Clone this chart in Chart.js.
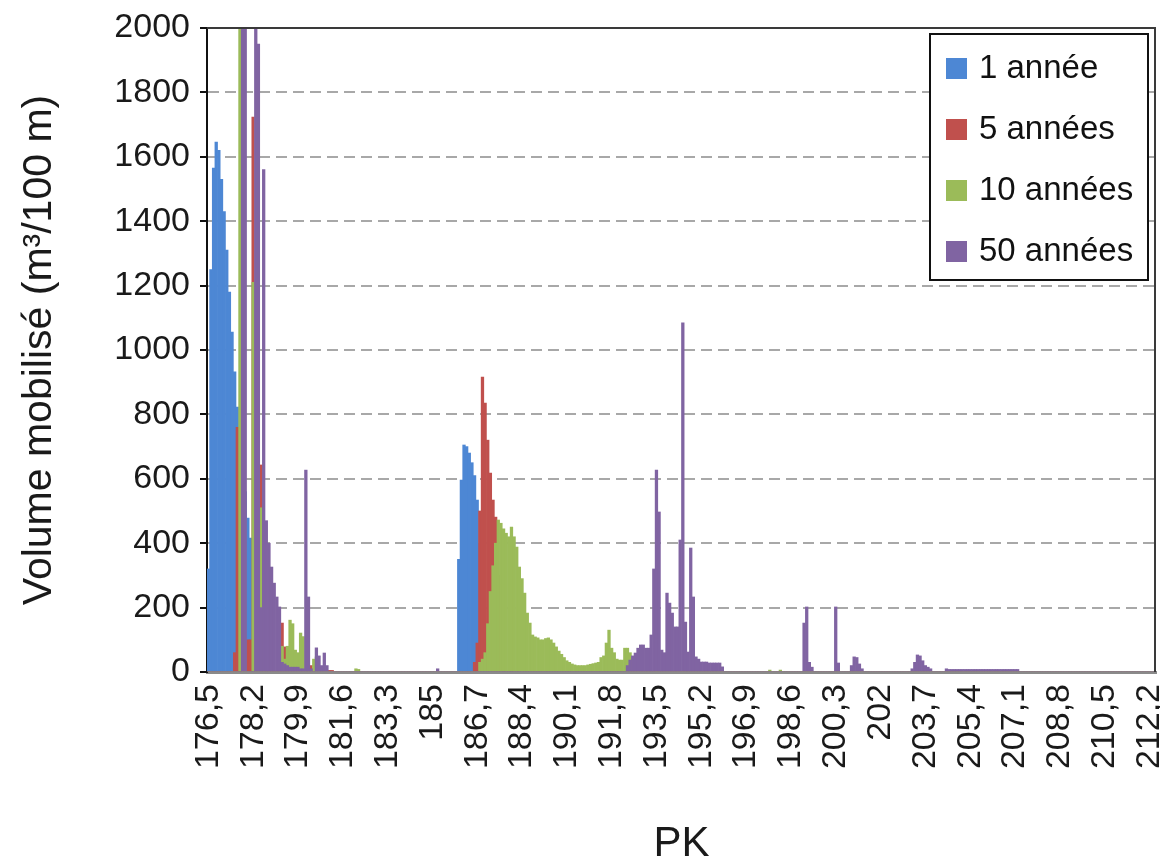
<!DOCTYPE html>
<html><head><meta charset="utf-8">
<script src="https://cdn.jsdelivr.net/npm/chart.js@4.4.1/dist/chart.umd.min.js"></script>
<style>html,body{margin:0;padding:0;background:#fff;}canvas{display:block;}</style>
</head><body>
<canvas id="c" width="1160" height="864"></canvas>
<script>
// Categories: PK (km), every 0.1 km
const pk = [
176.5,176.6,176.7,176.8,176.9,177,177.1,177.2,177.3,177.4,
177.5,177.6,177.7,177.8,177.9,178,178.1,178.2,178.3,178.4,
178.5,178.6,178.7,178.8,178.9,179,179.1,179.2,179.3,179.4,
179.5,179.6,179.7,179.8,179.9,180,180.1,180.2,180.3,180.4,
180.5,180.6,180.7,180.8,180.9,181,181.1,181.2,181.3,181.4,
181.5,181.6,181.7,181.8,181.9,182,182.1,182.2,182.3,182.4,
182.5,182.6,182.7,182.8,182.9,183,183.1,183.2,183.3,183.4,
183.5,183.6,183.7,183.8,183.9,184,184.1,184.2,184.3,184.4,
184.5,184.6,184.7,184.8,184.9,185,185.1,185.2,185.3,185.4,
185.5,185.6,185.7,185.8,185.9,186,186.1,186.2,186.3,186.4,
186.5,186.6,186.7,186.8,186.9,187,187.1,187.2,187.3,187.4,
187.5,187.6,187.7,187.8,187.9,188,188.1,188.2,188.3,188.4,
188.5,188.6,188.7,188.8,188.9,189,189.1,189.2,189.3,189.4,
189.5,189.6,189.7,189.8,189.9,190,190.1,190.2,190.3,190.4,
190.5,190.6,190.7,190.8,190.9,191,191.1,191.2,191.3,191.4,
191.5,191.6,191.7,191.8,191.9,192,192.1,192.2,192.3,192.4,
192.5,192.6,192.7,192.8,192.9,193,193.1,193.2,193.3,193.4,
193.5,193.6,193.7,193.8,193.9,194,194.1,194.2,194.3,194.4,
194.5,194.6,194.7,194.8,194.9,195,195.1,195.2,195.3,195.4,
195.5,195.6,195.7,195.8,195.9,196,196.1,196.2,196.3,196.4,
196.5,196.6,196.7,196.8,196.9,197,197.1,197.2,197.3,197.4,
197.5,197.6,197.7,197.8,197.9,198,198.1,198.2,198.3,198.4,
198.5,198.6,198.7,198.8,198.9,199,199.1,199.2,199.3,199.4,
199.5,199.6,199.7,199.8,199.9,200,200.1,200.2,200.3,200.4,
200.5,200.6,200.7,200.8,200.9,201,201.1,201.2,201.3,201.4,
201.5,201.6,201.7,201.8,201.9,202,202.1,202.2,202.3,202.4,
202.5,202.6,202.7,202.8,202.9,203,203.1,203.2,203.3,203.4,
203.5,203.6,203.7,203.8,203.9,204,204.1,204.2,204.3,204.4,
204.5,204.6,204.7,204.8,204.9,205,205.1,205.2,205.3,205.4,
205.5,205.6,205.7,205.8,205.9,206,206.1,206.2,206.3,206.4,
206.5,206.6,206.7,206.8,206.9,207,207.1,207.2,207.3,207.4,
207.5,207.6,207.7,207.8,207.9,208,208.1,208.2,208.3,208.4,
208.5,208.6,208.7,208.8,208.9,209,209.1,209.2,209.3,209.4,
209.5,209.6,209.7,209.8,209.9,210,210.1,210.2,210.3,210.4,
210.5,210.6,210.7,210.8,210.9,211,211.1,211.2,211.3,211.4,
211.5,211.6,211.7,211.8,211.9,212,212.1,212.2,212.3,212.4
];

// Tick labels shown on the x axis (every 1.7 km)
const tickLabels = ['176,5','178,2','179,9','181,6','183,3','185','186,7','188,4','190,1','191,8',
  '193,5','195,2','196,9','198,6','200,3','202','203,7','205,4','207,1','208,8','210,5','212,2'];
const tickEvery = 17;

const yTicks = [0,200,400,600,800,1000,1200,1400,1600,1800,2000];

const seriesNames = ['1 année','5 années','10 années','50 années'];
const seriesColors = ['#4D87D4','#C0504D','#9BBB59','#8064A2'];

// Volume mobilisé (m3/100 m) – 1 année
const vol1 = [
320,1250,1565,1646,1620,1530,1430,1310,1180,1056,
932,823,760,700,560,478,416,0,0,0,
0,0,0,0,0,0,0,0,0,0,
0,0,0,0,0,0,0,0,0,0,
0,0,0,0,0,0,0,0,0,0,
0,0,0,0,0,0,0,0,0,0,
0,0,0,0,0,0,0,0,0,0,
0,0,0,0,0,0,0,0,0,0,
0,0,0,0,0,0,0,0,0,0,
0,0,0,0,0,350,596,705,700,680,
650,610,534,400,0,0,0,0,0,0,
0,0,0,0,0,0,0,0,0,0,
0,0,0,0,0,0,0,0,0,0,
0,0,0,0,0,0,0,0,0,0,
0,0,0,0,0,0,0,0,0,0,
0,0,0,0,0,0,0,0,0,0,
0,0,0,0,0,0,0,0,0,0,
0,0,0,0,0,0,0,0,0,0,
0,0,0,0,0,0,0,0,0,0,
0,0,0,0,0,0,0,0,0,0,
0,0,0,0,0,0,0,0,0,0,
0,0,0,0,0,0,0,0,0,0,
0,0,0,0,0,0,0,0,0,0,
0,0,0,0,0,0,0,0,0,0,
0,0,0,0,0,0,0,0,0,0,
0,0,0,0,0,0,0,0,0,0,
0,0,0,0,0,0,0,0,0,0,
0,0,0,0,0,0,0,0,0,0,
0,0,0,0,0,0,0,0,0,0,
0,0,0,0,0,0,0,0,0,0,
0,0,0,0,0,0,0,0,0,0,
0,0,0,0,0,0,0,0,0,0,
0,0,0,0,0,0,0,0,0,0,
0,0,0,0,0,0,0,0,0,0,
0,0,0,0,0,0,0,0,0,0,
0,0,0,0,0,0,0,0,0,0
];

// 5 années
const vol5 = [
0,0,0,0,0,0,0,0,0,0,
60,760,0,0,0,100,100,1723,0,0,
643,0,0,0,0,0,0,0,152,78,
30,0,0,0,0,0,0,0,0,20,
0,0,0,10,0,0,5,5,0,0,
0,0,0,0,0,0,0,0,0,0,
0,0,0,0,0,0,0,0,0,0,
0,0,0,0,0,0,0,0,0,0,
0,0,0,0,0,0,0,0,0,0,
0,0,0,0,0,0,0,0,0,0,
0,30,90,500,916,835,720,618,534,481,
300,200,100,0,0,0,0,0,0,0,
0,0,0,0,0,0,0,0,0,0,
0,0,0,0,0,0,0,0,0,0,
0,0,0,0,0,0,0,0,0,0,
0,0,0,0,0,0,0,0,0,0,
0,0,0,0,0,0,0,0,0,0,
0,0,0,0,0,0,0,0,0,0,
0,0,0,0,0,0,0,0,0,0,
0,0,0,0,0,0,0,0,0,0,
0,0,0,0,0,0,0,0,0,0,
0,0,0,0,0,0,0,0,0,0,
0,0,0,0,0,0,0,0,0,0,
0,0,0,0,0,0,0,0,0,0,
0,0,0,0,0,0,0,0,0,0,
0,0,0,0,0,0,0,0,0,0,
0,0,0,0,0,0,0,0,0,0,
0,0,0,0,0,0,0,0,0,0,
0,0,0,0,0,0,0,0,0,0,
0,0,0,0,0,0,0,0,0,0,
0,0,0,0,0,0,0,0,0,0,
0,0,0,0,0,0,0,0,0,0,
0,0,0,0,0,0,0,0,0,0,
0,0,0,0,0,0,0,0,0,0,
0,0,0,0,0,0,0,0,0,0,
0,0,0,0,0,0,0,0,0,0
];

// 10 années
const vol10 = [
0,0,0,0,0,0,0,0,0,0,
0,0,2000,0,0,0,0,1210,0,0,
510,0,0,0,0,0,0,0,80,40,
80,161,150,68,60,121,110,0,0,0,
40,47,0,0,0,0,0,0,0,0,
0,0,0,0,0,0,10,8,0,0,
0,0,0,0,0,0,0,0,0,0,
0,0,0,0,0,0,0,0,0,0,
0,0,0,0,0,0,0,0,0,0,
0,0,0,0,0,0,0,0,0,0,
0,0,0,30,40,60,150,250,330,400,
472,462,445,431,420,450,420,388,326,290,
245,183,152,115,109,106,100,100,104,106,
100,90,78,65,55,45,35,30,25,22,
20,20,20,20,22,24,26,28,30,45,
50,90,130,74,60,40,37,37,74,74,
60,40,0,0,0,0,0,0,0,0,
0,0,0,0,0,0,0,0,0,0,
0,0,0,0,0,0,0,0,0,0,
0,0,0,0,0,0,0,0,0,0,
0,0,0,0,0,0,0,0,0,0,
0,0,0,6,0,0,0,6,0,0,
0,0,0,0,0,0,0,0,0,0,
0,0,0,0,0,0,0,0,0,0,
0,0,0,0,0,0,0,0,0,0,
0,0,0,0,0,0,0,0,0,0,
0,0,0,0,0,0,0,0,0,0,
0,0,0,0,0,0,0,0,0,0,
0,0,0,0,0,0,0,0,0,0,
0,0,0,0,0,0,0,0,0,0,
0,0,0,0,0,0,0,0,0,0,
0,0,0,0,0,0,0,0,0,0,
0,0,0,0,0,0,0,0,0,0,
0,0,0,0,0,0,0,0,0,0,
0,0,0,0,0,0,0,0,0,0,
0,0,0,0,0,0,0,0,0,0
];

// 50 années
const vol50 = [
0,0,0,0,0,0,0,0,0,0,
0,0,0,2000,2000,0,0,0,2000,1950,
200,1560,470,400,326,276,233,202,30,25,
20,15,15,15,15,10,10,627,233,10,
0,75,50,20,59,20,0,0,0,0,
0,0,0,0,0,0,0,0,0,0,
0,0,0,0,0,0,0,0,0,0,
0,0,0,0,0,0,0,0,0,0,
0,0,0,0,0,0,0,10,0,0,
0,0,0,0,0,0,0,0,0,0,
0,0,0,0,0,0,0,0,0,0,
0,0,0,0,0,0,0,0,0,0,
0,0,0,0,0,0,0,0,0,0,
0,0,0,0,0,0,0,0,0,0,
0,0,0,0,0,0,0,0,0,0,
0,0,0,0,0,0,0,0,0,20,
37,50,59,74,84,84,74,74,115,320,
627,497,68,60,245,214,183,140,140,410,
1084,155,62,385,233,47,40,31,31,31,
28,28,28,28,28,16,0,0,0,0,
0,0,0,0,0,0,0,0,0,0,
0,0,0,0,0,0,0,0,0,0,
0,0,0,0,0,0,152,202,30,15,
0,0,0,0,0,0,0,0,202,28,
0,0,0,0,20,47,45,25,10,0,
0,0,0,0,0,0,0,0,0,0,
0,0,0,0,0,0,0,10,30,53,
50,35,20,15,10,0,0,0,0,0,
10,8,8,8,8,8,8,8,8,8,
8,8,8,8,8,8,8,8,8,8,
8,8,8,8,8,8,8,8,0,0,
0,0,0,0,0,0,0,0,0,0,
0,0,0,0,0,0,0,0,0,0,
0,0,0,0,0,0,0,0,0,0,
0,0,0,0,0,0,0,0,0,0,
0,0,0,0,0,0,0,0,0,0
];

const FONT = "'Liberation Sans', Arial, Helvetica, sans-serif";
Chart.defaults.font.family = FONT;
Chart.defaults.color = '#1a1a1a';

const allSeries = [vol1, vol5, vol10, vol50];

const plotFrame = {
  id: 'plotFrame',
  afterDatasetsDraw(chart) {
    const {ctx, chartArea: a} = chart;
    ctx.save();
    ctx.strokeStyle = '#3a3a3a';
    ctx.lineWidth = 2;
    ctx.beginPath();
    ctx.moveTo(a.left, a.top);
    ctx.lineTo(a.right - 1, a.top);
    ctx.lineTo(a.right - 1, a.bottom);
    ctx.stroke();
    ctx.restore();
  }
};

const boxLegend = {
  id: 'boxLegend',
  afterDraw(chart) {
    const ctx = chart.ctx;
    const x0 = 930, y0 = 34, w = 218, h = 246;
    ctx.save();
    ctx.fillStyle = '#ffffff';
    ctx.fillRect(x0, y0, w, h);
    ctx.strokeStyle = '#111';
    ctx.lineWidth = 2;
    ctx.strokeRect(x0, y0, w, h);
    ctx.font = '33px ' + FONT;
    ctx.textBaseline = 'middle';
    ctx.textAlign = 'left';
    chart.data.datasets.forEach((ds, k) => {
      const y = 68 + k * 61;
      ctx.fillStyle = ds.backgroundColor;
      ctx.fillRect(946, y - 10, 21, 21);
      ctx.fillStyle = '#111';
      ctx.fillText(ds.label, 979, y + 1);
    });
    ctx.restore();
  }
};

new Chart(document.getElementById('c'), {
  type: 'bar',
  data: {
    labels: pk,
    datasets: allSeries.map((vals, k) => ({
      label: seriesNames[k],
      data: vals,
      backgroundColor: seriesColors[k],
      borderWidth: 0,
      grouped: false,
      barPercentage: 1,
      categoryPercentage: 1,
      order: allSeries.length - k
    }))
  },
  options: {
    responsive: false,
    animation: false,
    devicePixelRatio: 1,
    layout: {padding: {top: 28, right: 4, bottom: 0, left: 0}},
    plugins: {legend: {display: false}, tooltip: {enabled: false}},
    scales: {
      x: {
        type: 'category',
        grid: {display: false, drawTicks: false},
        border: {display: true, color: '#8a8a8a', width: 3},
        ticks: {
          autoSkip: false, minRotation: 90, maxRotation: 90, padding: 12,
          font: {size: 34}, color: '#1a1a1a',
          callback: (v, i) => (i % tickEvery === 0 ? tickLabels[i / tickEvery] : '')
        },
        title: {display: true, text: 'PK', font: {size: 42, lineHeight: 0.9}, color: '#1a1a1a', padding: {top: 0, bottom: 1}},
        afterFit: s => { s.height = 192; s.paddingLeft = 0; s.paddingRight = 0; }
      },
      y: {
        min: 0, max: 2000,
        afterBuildTicks: s => { s.ticks = yTicks.map(v => ({value: v})); },
        ticks: {font: {size: 34}, color: '#1a1a1a', padding: 10, callback: v => String(v)},
        grid: {
          color: c => (c.tick && (c.tick.value === 0 || c.tick.value === 2000)) ? 'rgba(0,0,0,0)' : '#A8A8A8',
          lineWidth: 2, tickLength: 7, tickColor: '#111', tickWidth: 2
        },
        border: {display: true, color: '#111', width: 2, dash: [11, 6]},
        title: {display: true, text: 'Volume mobilisé (m³/100 m)', font: {size: 41}, color: '#1a1a1a', padding: {top: 15, bottom: 0}},
        afterFit: s => { s.width = 207; s.paddingTop = 0; s.paddingBottom = 0; }
      }
    }
  },
  plugins: [plotFrame, boxLegend]
});
</script>
</body></html>
